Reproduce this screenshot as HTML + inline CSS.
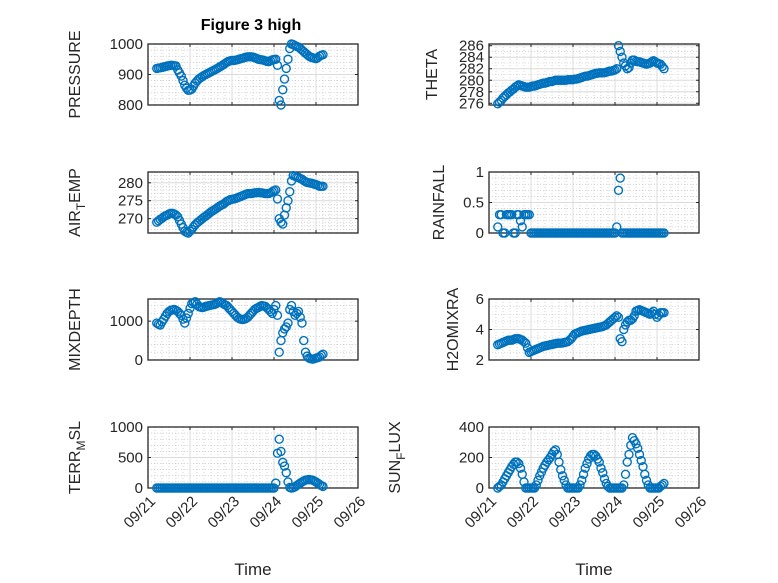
<!DOCTYPE html>
<html><head><meta charset="utf-8"><style>
html,body{margin:0;padding:0;background:#fff;}
svg{display:block;font-family:"Liberation Sans","DejaVu Sans",sans-serif;}
</style></head><body>
<svg id="fig" width="778" height="583" viewBox="0 0 778 583" xmlns="http://www.w3.org/2000/svg">
<rect width="778" height="583" fill="#fff"/>
<text x="251" y="30" text-anchor="middle" font-size="16" font-weight="bold" fill="#000">Figure 3 high</text>
</svg>
<script>
const hours = [5,6,7,8,9,10,11,12,13,14,15,16,
17,18,19,20,21,22,23,24,25,26,27,28,
29,30,31,32,33,34,35,36,37,38,39,40,
41,42,43,44,45,46,47,48,49,50,51,52,
53,54,55,56,57,58,59,60,61,62,63,64,
65,66,67,68,69,70,71,72,73,74,75,76,
77,78,79,80,81,82,83,84,85,86,87,88,
89,90,91,92,93,94,95,96,97,98,99,100];
const dateTicks = ["09/21","09/22","09/23","09/24","09/25","09/26"];
const pressure = [920,921,922,923,925,926,928,929,930,930,929,928,
915,905,895,880,865,855,848,849,852,862,872,879,
885,889,893,897,900,903,906,909,912,915,918,921,
925,928,932,936,940,943,945,946,946,947,948,950,
952,953,955,957,958,958,958,957,955,953,950,949,
948,947,945,943,942,945,948,949,950,930,815,800,
850,885,920,950,985,1000,998,995,992,990,985,980,
975,970,965,960,957,955,953,952,955,960,963,965];
const airTemp = [269,269.4,269.8,270.1,270.5,270.8,271,271.3,271.5,271.5,271.3,271,
270.5,269.5,268.5,267.5,266.5,266.2,266,266.5,267,267.7,268.3,268.8,
269.2,269.6,270,270.4,270.7,271.1,271.5,271.9,272.2,272.5,272.8,273.2,
273.5,273.8,274,274.4,274.8,275,275.3,275.4,275.5,275.6,275.8,276,
276.2,276.4,276.6,276.8,277,277,277,277.1,277.2,277.2,277.3,277.2,
277.2,277.1,277,277,277,277.2,277.5,277.8,278,275.5,270,269,
268.5,271,273,275,277.5,280.5,282,281.8,281.6,281.5,281.2,281,
280.6,280.3,280.1,280,279.9,279.8,279.6,279.5,279.3,279,279,279];
const mixDepth = [950,920,900,980,1050,1130,1200,1250,1280,1290,1300,1280,
1250,1200,1150,1050,950,1080,1200,1330,1450,1480,1500,1440,
1380,1360,1350,1360,1380,1390,1400,1410,1420,1430,1450,1480,
1500,1480,1450,1420,1400,1350,1300,1250,1200,1150,1100,1070,
1050,1040,1050,1070,1100,1150,1200,1250,1300,1330,1350,1380,
1400,1390,1380,1340,1300,1250,1200,1300,1400,1150,200,500,
700,800,850,950,1300,1400,1250,1150,1200,1250,1100,950,
500,200,100,50,30,20,30,50,60,80,120,150];
const terrMsl = [0,0,0,0,0,0,0,0,0,0,0,0,
0,0,0,0,0,0,0,0,0,0,0,0,
0,0,0,0,0,0,0,0,0,0,0,0,
0,0,0,0,0,0,0,0,0,0,0,0,
0,0,0,0,0,0,0,0,0,0,0,0,
0,0,0,0,0,0,0,0,80,570,800,600,
420,360,250,100,10,0,5,20,40,60,80,100,
115,130,135,140,135,130,115,100,80,60,40,25];
const theta = [275.9,276.2,276.5,276.9,277.2,277.5,277.8,278,278.3,278.5,278.8,279,
279.2,279.1,279,278.9,278.8,278.8,278.8,278.9,279,279,279.1,279.2,
279.3,279.4,279.5,279.5,279.6,279.7,279.8,279.8,279.9,280,280,280,
280,280,280,280,280.1,280.1,280.1,280.1,280.2,280.2,280.3,280.4,
280.5,280.6,280.7,280.7,280.8,280.9,281,281.1,281.2,281.2,281.3,281.3,
281.3,281.3,281.4,281.5,281.6,281.6,281.7,281.8,282,286,285,284,
283,282.5,282,282.2,283,283.5,283.5,283.3,283.2,283.2,283.1,283,
282.9,282.8,282.9,283,283.2,283.4,283.2,283,282.9,282.8,282.4,282];
const rainfall = [0.1,0.3,0.3,0,0,0.3,0.3,0.3,0.3,0,0,0.3,
0.3,0.2,0.1,0.3,0.3,0.3,0.3,0,0,0,0,0,
0,0,0,0,0,0,0,0,0,0,0,0,
0,0,0,0,0,0,0,0,0,0,0,0,
0,0,0,0,0,0,0,0,0,0,0,0,
0,0,0,0,0,0,0,0,0.1,0.7,0.9,0,
0,0,0,0,0,0,0,0,0,0,0,0,
0,0,0,0,0,0,0,0,0,0,0,0];
const h2oMix = [3.0,3.05,3.1,3.15,3.2,3.25,3.3,3.3,3.3,3.35,3.4,3.4,
3.4,3.35,3.3,3.2,3.1,2.8,2.5,2.55,2.6,2.65,2.7,2.75,
2.8,2.85,2.9,2.92,2.95,2.97,3.0,3.02,3.05,3.07,3.1,3.1,
3.1,3.12,3.15,3.17,3.2,3.3,3.4,3.55,3.7,3.75,3.8,3.85,
3.9,3.92,3.95,3.97,4.0,4.02,4.05,4.07,4.1,4.12,4.15,4.17,
4.2,4.25,4.3,4.4,4.5,4.6,4.7,4.8,4.9,4.8,3.4,3.2,
4.0,4.3,4.5,4.6,4.6,4.7,4.9,5.2,5.25,5.3,5.25,5.2,
5.15,5.1,5.05,5.0,5.1,5.2,5.0,4.8,4.95,5.1,5.1,5.1];
const sunFlux = [0,10,20,40,60,80,100,120,140,155,170,170,
160,130,90,40,0,0,0,0,0,0,20,50,
80,105,130,150,170,185,200,220,240,250,220,170,
120,80,50,20,0,0,0,0,0,0,0,20,
50,90,130,160,190,210,220,220,210,190,170,130,
100,60,30,10,0,0,0,0,0,0,0,0,
20,90,170,220,280,330,310,290,260,220,180,140,
90,50,20,0,0,0,0,0,0,10,20,30];

const NS="http://www.w3.org/2000/svg";
const svg=document.getElementById('fig');
function mk(tag,attrs,parent){const e=document.createElementNS(NS,tag);for(const k in attrs)e.setAttribute(k,attrs[k]);(parent||svg).appendChild(e);return e;}

const panels=[
 {key:'pressure',data:pressure,x0:148,y0:44,ymin:800,ymax:1000,ticks:[800,900,1000],minor:5,label:['PRESSURE'],lx:80,bottom:false},
 {key:'theta',data:theta,x0:489,y0:44,ymin:275.7,ymax:286.3,ticks:[276,278,280,282,284,286],minor:2,label:['THETA'],lx:437,bottom:false},
 {key:'air-temp',data:airTemp,x0:148,y0:172,ymin:266,ymax:283,ticks:[270,275,280],minor:5,label:['AIR','T','EMP'],lx:80,bottom:false},
 {key:'rainfall',data:rainfall,x0:489,y0:172,ymin:0,ymax:1,ticks:[0,0.5,1],minor:5,label:['RAINFALL'],lx:444,bottom:false},
 {key:'mixdepth',data:mixDepth,x0:148,y0:299,ymin:0,ymax:1570,ticks:[0,1000],minor:5,label:['MIXDEPTH'],lx:80,bottom:false},
 {key:'h2omixra',data:h2oMix,x0:489,y0:299,ymin:2,ymax:6,ticks:[2,4,6],minor:4,label:['H2OMIXRA'],lx:458,bottom:false},
 {key:'terr-msl',data:terrMsl,x0:148,y0:427,ymin:0,ymax:1000,ticks:[0,500,1000],minor:5,label:['TERR','M','SL'],lx:80,bottom:true},
 {key:'sun-flux',data:sunFlux,x0:489,y0:427,ymin:0,ymax:400,ticks:[0,200,400],minor:5,label:['SUN','F','LUX'],lx:400,bottom:true}
];
const W=210,H=61;

panels.forEach(p=>{
 const g=mk('g',{});
 
 
 const xs=d=>p.x0+d/5*W;
 const ys=v=>p.y0+H-(v-p.ymin)/(p.ymax-p.ymin)*H;
 mk('rect',{x:p.x0,y:p.y0,width:W,height:H,fill:'#fff'},g);
 for(let d=0;d<=5;d+=1/6){const x=xs(d);mk('line',{x1:x,x2:x,y1:p.y0,y2:p.y0+H,stroke:'#bbb','stroke-width':0.6,'stroke-dasharray':'1 2'},g);}
 const tstep=p.ticks.length>1?p.ticks[1]-p.ticks[0]:1;
 const ms=tstep/p.minor;
 for(let v=p.ticks[0]-tstep;v<=p.ymax+1e-9;v+=ms){if(v<p.ymin)continue;const y=ys(v);mk('line',{x1:p.x0,x2:p.x0+W,y1:y,y2:y,stroke:'#bbb','stroke-width':0.6,'stroke-dasharray':'1 2'},g);}
 for(let d=0;d<=5;d++){const x=xs(d);mk('line',{x1:x,x2:x,y1:p.y0,y2:p.y0+H,stroke:'#dcdcdc','stroke-width':1},g);}
 p.ticks.forEach(v=>{const y=ys(v);mk('line',{x1:p.x0,x2:p.x0+W,y1:y,y2:y,stroke:'#dcdcdc','stroke-width':1},g);});
 for(let d=0;d<=5;d++){const x=xs(d);mk('line',{x1:x,x2:x,y1:p.y0+H,y2:p.y0+H-3,stroke:'#262626'},g);mk('line',{x1:x,x2:x,y1:p.y0,y2:p.y0+3,stroke:'#262626'},g);}
 p.ticks.forEach(v=>{const y=ys(v);mk('line',{x1:p.x0,x2:p.x0+3,y1:y,y2:y,stroke:'#262626'},g);mk('line',{x1:p.x0+W,x2:p.x0+W-3,y1:y,y2:y,stroke:'#262626'},g);
  const t=mk('text',{x:p.x0-5,y:y+5,'text-anchor':'end','font-size':15,fill:'#262626'},g);t.textContent=String(v);
  
  
 });
 mk('rect',{x:p.x0,y:p.y0,width:W,height:H,fill:'none',stroke:'#262626','stroke-width':1.3},g);
 p.data.forEach((v,i)=>{
  const c=mk('circle',{cx:xs(hours[i]/24),cy:ys(v),r:4,fill:'none',stroke:'#0072BD','stroke-width':1.4},g);
  
  
 });
 const cy=p.y0+H/2;
 const lab=mk('text',{x:p.lx,y:cy,'text-anchor':'middle','font-size':16,fill:'#262626',transform:`rotate(-90 ${p.lx} ${cy})`},g);
 
 
 if(p.label.length===1){lab.textContent=p.label[0];}
 else{
  const a=mk('tspan',{},lab);a.textContent=p.label[0];
  const b=mk('tspan',{dy:5,'font-size':12},lab);b.textContent=p.label[1];
  const c=mk('tspan',{dy:-5},lab);c.textContent=p.label[2];
 }
 if(p.bottom){
  dateTicks.forEach((s,d)=>{const x=xs(d);const y=p.y0+H+10;
   const t=mk('text',{x:x+4,y:y+6,'text-anchor':'end','font-size':15,fill:'#262626',transform:`rotate(-45 ${x+4} ${y})`},g);t.textContent=s;
   
   
  });
  const tt=mk('text',{x:p.x0+W/2,y:575,'text-anchor':'middle','font-size':17,fill:'#262626'},g);tt.textContent='Time';
  
  
 }
});
</script>
</body></html>
